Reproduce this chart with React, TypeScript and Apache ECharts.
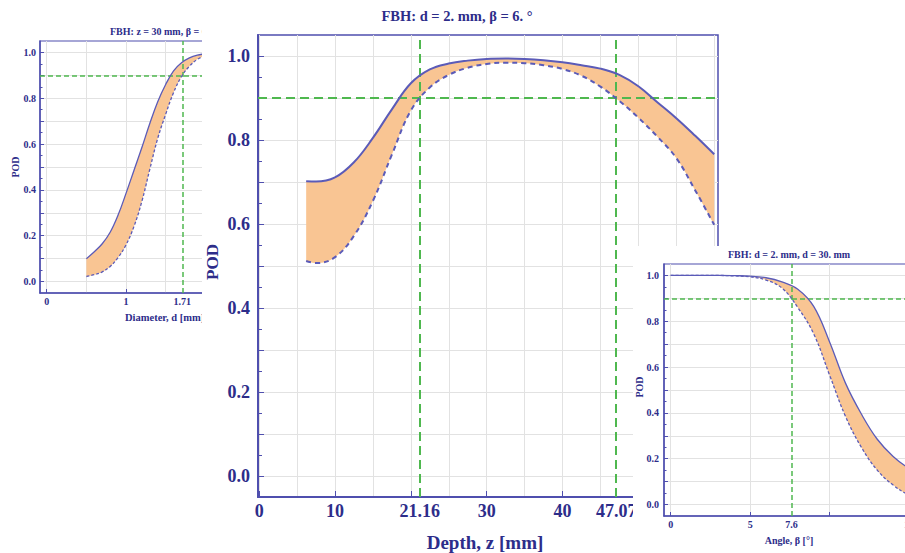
import React, { useEffect, useRef } from "react";
import * as echarts from "echarts";

// ---------- data: main chart (POD vs depth) ----------
const depthZ = [6.2, 7.5, 10, 12.5, 15, 17.5, 20, 22.5, 25, 27.5, 30, 32.5, 35, 37.5, 40, 42.5, 45, 47.5, 50, 52.5, 55, 57.5, 60];
const depthUpper = [0.702, 0.701, 0.711, 0.747, 0.805, 0.873, 0.935, 0.968, 0.982, 0.989, 0.993, 0.994, 0.993, 0.99, 0.985, 0.978, 0.97, 0.955, 0.928, 0.89, 0.852, 0.81, 0.766];
const depthLower = [0.512, 0.507, 0.521, 0.572, 0.655, 0.765, 0.87, 0.925, 0.955, 0.972, 0.981, 0.984, 0.983, 0.978, 0.969, 0.953, 0.927, 0.893, 0.853, 0.808, 0.757, 0.68, 0.598];
const depthTickLabels = [0, 10, 21.16, 30, 40, 47.07];
const depthTicks = [0, 10, 20, 30, 40, 50, 60];
const depthGrid = [0, 5, 10, 15, 20, 25, 30, 35, 40, 45, 50, 55, 60];
const depthRefX = [21.16, 47.07];

// ---------- data: left chart (POD vs diameter) ----------
const diamD = [0.5, 0.6, 0.7, 0.8, 0.9, 1.0, 1.1, 1.2, 1.3, 1.4, 1.5, 1.6, 1.7, 1.8, 1.9, 2.0, 2.1, 2.2];
const diamUpper = [0.1, 0.13, 0.165, 0.215, 0.29, 0.385, 0.485, 0.585, 0.69, 0.785, 0.86, 0.92, 0.955, 0.976, 0.988, 0.994, 0.997, 0.999];
const diamLower = [0.022, 0.03, 0.042, 0.066, 0.105, 0.16, 0.24, 0.35, 0.49, 0.625, 0.73, 0.825, 0.895, 0.94, 0.97, 0.985, 0.993, 0.997];
const diamTickLabels = [0, 1, 1.71];
const diamTicks = [0, 1, 2];
const diamGrid = [0, 0.5, 1, 1.5, 2];
const diamRefX = [1.71];

// ---------- data: right chart (POD vs angle) ----------
const angleB = [0, 1, 2, 3, 4, 5, 6, 7, 8, 9, 10, 11, 12, 13, 14, 15, 16];
const angleUpper = [1, 1, 1, 1, 0.999, 0.997, 0.99, 0.972, 0.94, 0.865, 0.71, 0.53, 0.395, 0.285, 0.21, 0.158, 0.125];
const angleLower = [1, 1, 1, 1, 0.998, 0.994, 0.98, 0.945, 0.86, 0.745, 0.565, 0.385, 0.25, 0.15, 0.085, 0.042, 0.022];
const angleTickLabels = [0, 5, 7.6, 15];
const angleTicks = [0, 5, 10, 15];
const angleGrid = [0, 5, 10, 15];
const angleRefX = [7.6];

// ---------- shared POD axis ----------
const podLabels = [0, 0.2, 0.4, 0.6, 0.8, 1.0];
const podGrid = [0, 0.1, 0.2, 0.3, 0.4, 0.5, 0.6, 0.7, 0.8, 0.9, 1.0];
const podMinor = [0.05, 0.15, 0.25, 0.35, 0.45, 0.55, 0.65, 0.75, 0.85, 0.95];
const podThreshold = 0.9;

const TEXT = "#2d2d8a";
const FRAME = "#4f4fae";
const CURVE = "#5b5bb8";
const FILL = "#f9c593";
const GREEN = "#4fb84f";
const GRIDC = "#e2e2e2";
const FONT = "'Liberation Serif', 'DejaVu Serif', serif";

type Cfg = {
  grid: { left: number; top: number; width: number; height: number };
  xMin: number; xMax: number;
  xs: number[]; upper: number[]; lower: number[];
  xLabels: number[]; xTicks: number[]; xGrid: number[]; refX: number[];
  tickFont: number; frameW: number; curveW: number; curveDash: number[]; greenDash: number[]; greenW: number;
  xMargin: number; yMargin: number; majorLen: number; minorLen: number;
  texts: any[];
};

function fmtX(v: number) {
  return String(Math.round(v * 100) / 100);
}

function buildOption(c: Cfg) {
  const labelStyle = { color: TEXT, fontFamily: FONT, fontWeight: "bold" as const, fontSize: c.tickFont };
  const pairs = (ys: number[]) => c.xs.map((x, i) => [x, ys[i]]);
  // y first so that the stack is computed on the POD dimension
  const swapped = (ys: number[]) => c.xs.map((x, i) => [ys[i], x]);
  const diff = c.upper.map((u, i) => +(u - c.lower[i]).toFixed(4));
  const smooth = 0.4;
  return {
    animation: false,
    grid: [{ ...c.grid, show: true, borderColor: FRAME, borderWidth: c.frameW * 0.75, backgroundColor: "transparent", containLabel: false }],
    xAxis: [
      {
        type: "value", min: c.xMin, max: c.xMax, position: "bottom",
        axisLine: { show: true, onZero: false, lineStyle: { color: FRAME, width: c.frameW } },
        axisTick: { show: false, customValues: c.xGrid },
        splitLine: { show: true, lineStyle: { color: GRIDC, width: 1 } },
        axisLabel: { customValues: c.xLabels, margin: c.xMargin, formatter: (v: number) => fmtX(v), ...labelStyle },
      },
      {
        type: "value", min: c.xMin, max: c.xMax, position: "bottom",
        axisLine: { show: false, onZero: false },
        axisTick: { show: true, inside: true, length: c.majorLen, customValues: c.xTicks, lineStyle: { color: FRAME, width: 1 } },
        splitLine: { show: false },
        axisLabel: { show: false },
      },
    ],
    yAxis: [
      {
        type: "value", min: -0.05, max: 1.05, position: "left",
        axisLine: { show: true, onZero: false, lineStyle: { color: FRAME, width: c.frameW } },
        axisTick: { show: true, inside: true, length: c.majorLen, customValues: podGrid, lineStyle: { color: FRAME, width: 1 } },
        splitLine: { show: true, lineStyle: { color: GRIDC, width: 1 } },
        axisLabel: { customValues: podLabels, margin: c.yMargin, formatter: (v: number) => v.toFixed(1), ...labelStyle },
      },
      {
        type: "value", min: -0.05, max: 1.05, position: "left",
        axisLine: { show: false, onZero: false },
        axisTick: { show: true, inside: true, length: c.minorLen, customValues: podMinor, lineStyle: { color: FRAME, width: 1 } },
        splitLine: { show: false },
        axisLabel: { show: false },
      },
    ],
    series: [
      {
        type: "line", data: swapped(c.lower), encode: { x: 1, y: 0 }, stack: "band", smooth, symbol: "none",
        lineStyle: { width: 0, opacity: 0 }, silent: true, z: 1,
      },
      {
        type: "line", data: swapped(diff), encode: { x: 1, y: 0 }, stack: "band", smooth, symbol: "none",
        lineStyle: { width: 0, opacity: 0 }, areaStyle: { color: FILL, opacity: 1 }, silent: true, z: 1,
      },
      {
        type: "line", data: pairs(c.upper), smooth, symbol: "none", z: 4,
        lineStyle: { color: CURVE, width: c.curveW },
        markLine: {
          silent: true, symbol: "none", label: { show: false }, z: 3,
          lineStyle: { color: GREEN, type: c.greenDash, width: c.greenW, opacity: 1 },
          emphasis: { disabled: true },
          data: [{ yAxis: podThreshold }, ...c.refX.map((x) => ({ xAxis: x }))],
        },
      },
      {
        type: "line", data: pairs(c.lower), smooth, symbol: "none", z: 4,
        lineStyle: { color: CURVE, width: c.curveW, type: c.curveDash },
      },
    ],
    graphic: c.texts,
  };
}

function txt(text: string, x: number, y: number, size: number, align: string = "center", rotate = false) {
  return {
    type: "text", x, y, rotation: rotate ? Math.PI / 2 : 0, silent: true,
    style: { text, fill: TEXT, font: `bold ${size}px ${FONT}`, align, verticalAlign: "middle" },
  };
}

const mainOption = buildOption({
  grid: { left: 56, top: 35, width: 460, height: 462 },
  xMin: -0.15, xMax: 60.5,
  xs: depthZ, upper: depthUpper, lower: depthLower,
  xLabels: depthTickLabels, xTicks: depthTicks, xGrid: depthGrid, refX: depthRefX,
  tickFont: 18, frameW: 2, curveW: 2, curveDash: [5, 4], greenDash: [9, 5], greenW: 2,
  xMargin: 5, yMargin: 8, majorLen: 6, minorLen: 4,
  texts: [
    txt("FBH: d = 2. mm, β = 6. °", 255, 16, 14.5),
    txt("Depth, z [mm]", 283, 542, 19),
    txt("POD", 10, 262, 17, "center", true),
  ],
});

const leftOption = buildOption({
  grid: { left: 40, top: 41, width: 197, height: 252 },
  xMin: -0.085, xMax: 2.4,
  xs: diamD, upper: diamUpper, lower: diamLower,
  xLabels: diamTickLabels, xTicks: diamTicks, xGrid: diamGrid, refX: diamRefX,
  tickFont: 10, frameW: 1.5, curveW: 1.3, curveDash: [3, 2], greenDash: [5, 3], greenW: 1.5,
  xMargin: 3, yMargin: 4, majorLen: 4, minorLen: 2.5,
  texts: [
    txt("FBH: z = 30 mm, β = 6. °", 110, 31, 10, "left"),
    txt("Diameter, d [mm]", 125, 317, 10.5, "left"),
    txt("POD", 15, 167, 10, "center", true),
  ],
});

const rightOption = buildOption({
  grid: { left: 31, top: 18, width: 253, height: 252 },
  xMin: -0.42, xMax: 15.5,
  xs: angleB, upper: angleUpper, lower: angleLower,
  xLabels: angleTickLabels, xTicks: angleTicks, xGrid: angleGrid, refX: angleRefX,
  tickFont: 10, frameW: 1.5, curveW: 1.3, curveDash: [3, 2], greenDash: [5, 3], greenW: 1.5,
  xMargin: 3, yMargin: 5, majorLen: 4, minorLen: 2.5,
  texts: [
    txt("FBH: d = 2. mm, d = 30. mm", 156, 8, 10),
    txt("Angle, β [°]", 156, 294, 10),
    txt("POD", 6, 141, 10, "center", true),
  ],
});

function EChart({ option, width, height }: { option: any; width: number; height: number }) {
  const ref = useRef<HTMLDivElement>(null);
  useEffect(() => {
    if (!ref.current) return;
    const chart = echarts.init(ref.current, undefined, { renderer: "svg", width, height });
    chart.setOption(option);
    return () => chart.dispose();
  }, [option, width, height]);
  return <div ref={ref} style={{ width, height }} />;
}

export default function App() {
  const box = (left: number, top: number, width: number, height: number): React.CSSProperties => ({
    position: "absolute", left, top, width, height, overflow: "hidden", background: "#fff",
  });
  return (
    <div style={{ position: "fixed", left: 0, top: 0, width: 905, height: 553, overflow: "hidden", background: "#fff" }}>
      <div style={box(0, 0, 202, 553)}>
        <EChart option={leftOption} width={260} height={340} />
      </div>
      <div style={box(202, 0, 520, 553)}>
        <EChart option={mainOption} width={520} height={553} />
      </div>
      <div style={box(633, 246, 272, 307)}>
        <EChart option={rightOption} width={320} height={307} />
      </div>
    </div>
  );
}
